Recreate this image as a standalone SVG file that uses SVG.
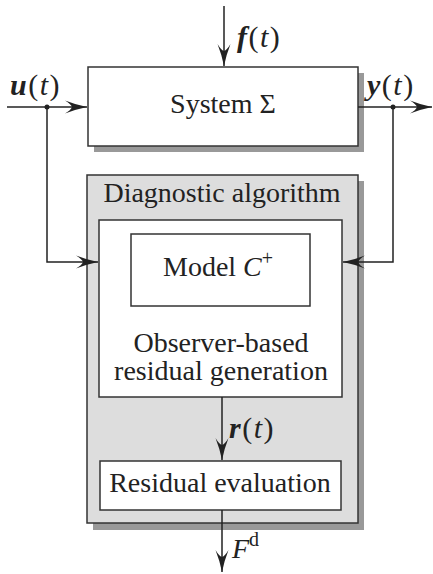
<svg xmlns="http://www.w3.org/2000/svg" width="433" height="574" viewBox="0 0 433 574">
<style>
.box{fill:#fff;stroke:#333;stroke-width:1.5}
.gbox{fill:#dddddd;stroke:#333;stroke-width:1.5}
.sh{fill:#999}
text{font-family:'Liberation Serif','Times New Roman',serif;font-size:28px;fill:#222}
.m{font-size:30px;letter-spacing:1.5px}
.bi{font-style:italic;font-weight:bold}
.i{font-style:italic}
.c{stroke:#222;stroke-width:1.5;fill:none}
</style>
<defs>
<marker id="ah" markerUnits="userSpaceOnUse" viewBox="-22 -7 23 14" refX="0" refY="0" markerWidth="23" markerHeight="14" orient="auto">
<path d="M0,0 Q-12,-2.5 -22,-6.5 Q-16,-3 -15,0 Q-16,3 -22,6.5 Q-12,2.5 0,0 Z" fill="#222"/>
</marker>
</defs>
<g id="system">
<rect class="sh" x="94" y="73" width="270" height="79"/>
<rect class="box" x="88" y="67" width="270" height="79"/>
<text x="223" y="113" text-anchor="middle">System Σ</text>
</g>
<g id="diagnostic">
<rect class="sh" x="93" y="181" width="271" height="349"/>
<rect class="gbox" x="87" y="175" width="271" height="348"/>
<text x="222" y="202" text-anchor="middle">Diagnostic algorithm</text>
</g>
<g id="observer">
<rect class="box" x="99" y="220" width="243" height="177"/>
<text x="221" y="352" text-anchor="middle">Observer-based</text>
<text x="221" y="380" text-anchor="middle">residual generation</text>
</g>
<g id="model">
<rect class="box" x="131" y="234" width="179" height="72"/>
<text x="163" y="276">Model <tspan class="i">C</tspan><tspan dy="-11" font-size="20">+</tspan></text>
</g>
<g id="evaluation">
<rect class="box" x="100" y="461" width="241" height="49"/>
<text x="220" y="492" text-anchor="middle">Residual evaluation</text>
</g>
<g id="connectors">
<path class="c" d="M224,6 V66" marker-end="url(#ah)"/>
<path class="c" d="M7,107 H87" marker-end="url(#ah)"/>
<path class="c" d="M358,107 H432" stroke-width="2" stroke="#111" marker-end="url(#ah)"/>
<path class="c" d="M47,107 V262 H98" marker-end="url(#ah)"/>
<path class="c" d="M393,107 V262 H343" marker-end="url(#ah)"/>
<path class="c" d="M222,397 V460" marker-end="url(#ah)"/>
<path class="c" d="M222,510 V572" marker-end="url(#ah)"/>
<circle cx="47" cy="107" r="2.5" fill="#222"/>
<circle cx="393" cy="107" r="2.5" fill="#222"/>
<text class="m" x="237" y="47"><tspan class="bi">f</tspan>(<tspan class="i">t</tspan>)</text>
<text class="m" x="10" y="95"><tspan class="bi">u</tspan>(<tspan class="i">t</tspan>)</text>
<text class="m" x="367" y="95"><tspan class="bi">y</tspan>(<tspan class="i">t</tspan>)</text>
<text class="m" x="229" y="438"><tspan class="bi">r</tspan>(<tspan class="i">t</tspan>)</text>
<text x="232" y="558"><tspan class="i">F</tspan><tspan dy="-12" font-size="20">d</tspan></text>
</g>
</svg>
